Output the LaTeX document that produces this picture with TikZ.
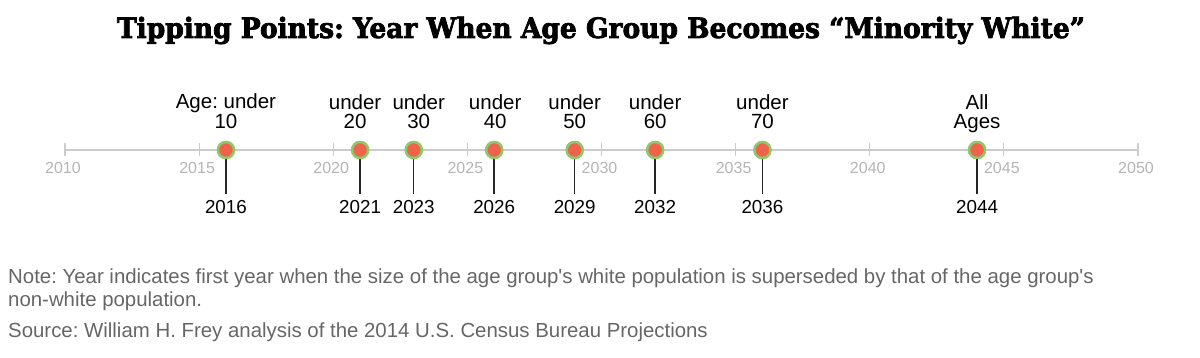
\documentclass[tikz,border=0pt]{standalone}
\usepackage{fontspec}
\setmainfont{Liberation Sans}
\newfontfamily\titlefont{DejaVu Serif Condensed}[FakeBold=2.5]
\usepackage{graphicx}
\definecolor{axisgray}{HTML}{CCCCCC}
\definecolor{ticklab}{HTML}{B5B5B5}
\definecolor{notegray}{HTML}{666666}
\definecolor{dotred}{HTML}{EF634A}
\definecolor{dotgreen}{HTML}{8DC86B}
\tikzset{
  dot/.style={circle, fill=dotred, draw=dotgreen, line width=2.4pt, minimum size=16pt, inner sep=0pt},
  toplab/.style={font=\fontsize{20.5}{18.5}\selectfont, align=center, anchor=south, inner sep=0pt},
  yearlab/.style={font=\fontsize{18.8}{20}\selectfont, anchor=base, inner xsep=0pt, inner ysep=7pt},
  ticklabel/.style={font=\fontsize{16}{18}\selectfont, text=ticklab, anchor=base, inner sep=0pt},
  stem/.style={draw=black!85, line width=1.5pt},
  notetext/.style={font=\fontsize{20.4}{23}\selectfont, text=notegray, anchor=base west, inner sep=0pt, align=left}
}
\begin{document}
\frenchspacing
\begin{tikzpicture}[x=1pt,y=-1pt]
\useasboundingbox (0,0) rectangle (1200,358);
% title
\node[anchor=base, inner sep=0pt] (title) at (601,38)
  {\resizebox{968pt}{\height}{\titlefont\bfseries\fontsize{28}{32}\selectfont Tipping Points: Year When Age Group Becomes “Minority White”}};
% axis
\coordinate (axL) at (65,150);
\coordinate (axR) at (1138,150);
\draw[axisgray, line width=1.3pt] (axL) -- (axR);
\foreach \yr in {2010,2015,...,2050}{
  \pgfmathsetmacro{\xx}{65+(\yr-2010)*26.825}
  \draw[axisgray, line width=1.2pt] (\xx,143) -- (\xx,156);
  \node[ticklabel] (tl\yr) at (\xx-2,174) {\yr};
}
% markers
\foreach \yr/\sh/\lab in {2016/0/{Age: under\\10\vphantom{g}},2021/-5/{under\\20\vphantom{g}},2023/5/{under\\30\vphantom{g}},2026/1/{under\\40\vphantom{g}},2029/0/{under\\50\vphantom{g}},2032/0/{under\\60\vphantom{g}},2036/0/{under\\70\vphantom{g}},2044/0/{All\\Ages}}{
  \pgfmathsetmacro{\xx}{65+(\yr-2010)*26.825}
  \node[toplab] (t\yr) at (\xx+\sh,132.5) {\lab};
  \node[yearlab] (y\yr) at (\xx,214) {\yr};
  \node[dot] (m\yr) at (\xx,150) {};
  \draw[stem] (m\yr.south) -- (y\yr.north);
  \node[dot] at (m\yr) {};
}
% notes
\node[notetext] (note) at (8,306) {Note: Year indicates first year when the size of the age group\textquotesingle s white population is superseded by that of the age group\textquotesingle s\\non-white population.};
\node[notetext] (source) at (8,337) {Source: William H. Frey analysis of the 2014 U.S. Census Bureau Projections};
\end{tikzpicture}
\end{document}
